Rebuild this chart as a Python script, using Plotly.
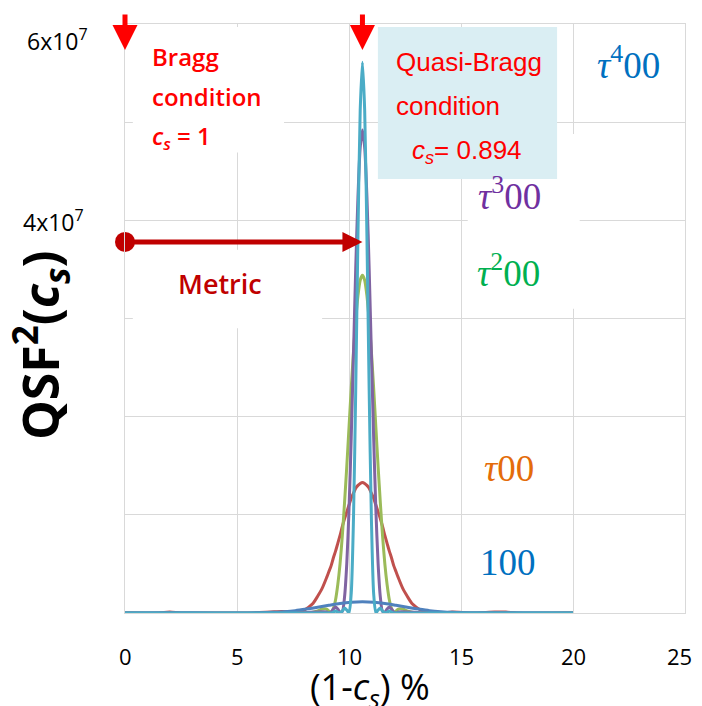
import plotly.graph_objects as go

# ---------------- data (values in units of 1e7) ----------------
x_fine = [9.0, 9.1, 9.2, 9.3, 9.4, 9.5, 9.6, 9.7, 9.8, 9.9, 10.0, 10.1, 10.2, 10.3, 10.4, 10.5,
          10.6, 10.7, 10.8, 10.9, 11.0, 11.1, 11.2, 11.3, 11.4, 11.5, 11.6, 11.7, 11.8, 11.9, 12.0,
          12.1, 12.2]

t4_x = [0.0, 8.0] + x_fine + [13.2, 20.0]
t4_y = [0, 0,
        0, 0, 0, 0.01, 0.02, 0.01, 0, 0.02, 0.05, 0.03, 0, 0.20, 0.96, 2.27, 3.84, 5.12,
        5.61,
        5.12, 3.84, 2.27, 0.96, 0.20, 0, 0.03, 0.05, 0.02, 0, 0.01, 0.02, 0.01, 0, 0, 0,
        0, 0]

t3_x = [0.0, 7.5, 8.5] + x_fine + [12.7, 13.7, 20.0]
t3_y = [0, 0, 0.01,
        0.01, 0, 0.01, 0.04, 0.06, 0.04, 0.01, 0.015, 0.16, 0.50, 1.05, 1.79, 2.64, 3.51, 4.24, 4.74,
        4.92,
        4.74, 4.24, 3.51, 2.64, 1.79, 1.05, 0.50, 0.16, 0.015, 0.01, 0.04, 0.06, 0.04, 0.01, 0, 0.01,
        0.01, 0, 0]

t2_x = [0.0, 8.2, 8.6, 8.8] + x_fine + [12.4, 12.6, 13.0, 20.0]
t2_y = [0, 0, 0.02, 0.04,
        0.04, 0.02, 0.005, 0.045, 0.135, 0.29, 0.50, 0.78, 1.12, 1.49, 1.89, 2.29, 2.66, 2.98, 3.23, 3.39,
        3.44,
        3.39, 3.23, 2.98, 2.66, 2.29, 1.89, 1.49, 1.12, 0.78, 0.50, 0.29, 0.135, 0.045, 0.005, 0.02, 0.04,
        0.04, 0.02, 0, 0]

t1_x = [0.0, 1.5, 2.0, 2.5, 3.5, 5.5, 6.5, 7.0, 7.6, 8.0, 8.2, 8.4, 8.6, 8.8] + x_fine + \
       [12.4, 12.6, 12.8, 13.0, 13.2, 13.6, 14.2, 14.6, 15.5, 16.5, 17.0, 17.5, 20.0]
t1_y = [0, 0, 0.01, 0, 0, 0, 0.01, 0.015, 0.01, 0.03, 0.06, 0.10, 0.17, 0.25,
        0.36, 0.42, 0.48, 0.56, 0.63, 0.71, 0.79, 0.88, 0.96, 1.03, 1.10, 1.17, 1.22, 1.27, 1.30, 1.32,
        1.33,
        1.32, 1.30, 1.27, 1.22, 1.17, 1.10, 1.03, 0.96, 0.88, 0.79, 0.71, 0.63, 0.56, 0.48, 0.42, 0.36,
        0.25, 0.17, 0.10, 0.06, 0.03, 0.01, 0, 0.01, 0, 0.01, 0.01, 0, 0]

b100_x = [0.0, 2.0, 4.0, 5.0, 6.0, 6.6, 7.1, 7.6, 8.1, 8.6, 9.1, 9.6, 10.1, 10.6, 11.1, 11.6, 12.1,
          12.6, 13.1, 13.6, 14.1, 14.6, 15.6, 17.0, 20.0]
b100_y = [0, 0.003, 0, 0, 0.003, 0.007, 0.014, 0.024, 0.040, 0.058, 0.078, 0.097, 0.110, 0.115, 0.110,
          0.097, 0.078, 0.058, 0.040, 0.024, 0.014, 0.007, 0.002, 0.003, 0]

series_names = ["τ00", "τ²00", "τ³00", "100", "τ⁴00"]
series_colors = ["#C0504D", "#9BBB59", "#8064A2", "#4F81BD", "#4BACC6"]

x_ticks = [0, 5, 10, 15, 20, 25]
x_tick_labels = ["0", "5", "10", "15", "20", "25"]
y_tick_vals = [6, 4]
y_tick_labels = ["6x10<sup>7</sup>", "4x10<sup>7</sup>"]

bragg_x = 0.0           # (1 - cs) % for cs = 1
quasi_x = 10.6          # (1 - cs) % for cs = 0.894
metric_y = 3.78

# ---------------- figure ----------------
# page body has an 8px default margin; keep the page no wider than the window.
# Target plot area in window pixels: x 125..685, y 24..613
BODY = 8
PL, PR, PT, PB = 125, 685, 24, 613
W, H = 702 - 2 * BODY, 706 - BODY
L, T = PL - BODY, PT - BODY
R = W - (PR - BODY)
B = H - (PB - BODY)
PW, PH = PR - PL, PB - PT


def px(xp):
    return (xp - PL) / PW


def py(yp):
    return (PB - yp) / PH


fig = go.Figure()
xs = [t1_x, t2_x, t3_x, b100_x, t4_x]
ys = [t1_y, t2_y, t3_y, b100_y, t4_y]
for xv, yv, nm, col in zip(xs, ys, series_names, series_colors):
    fig.add_trace(go.Scatter(x=xv, y=yv, mode="lines", name=nm,
                             line=dict(color=col, width=3, shape="spline", smoothing=0.7),
                             hoverinfo="skip"))

# metric start dot
fig.add_trace(go.Scatter(x=[bragg_x], y=[metric_y], mode="markers", cliponaxis=False,
                         marker=dict(color="#C00000", size=20, line_width=0), hoverinfo="skip"))

grid = "#D9D9D9"
fig.update_layout(
    width=W, height=H, margin=dict(l=L, r=R, t=T, b=B),
    paper_bgcolor="white", plot_bgcolor="white", showlegend=False,
    xaxis=dict(range=[0, 25], tickvals=x_ticks, showgrid=True, showticklabels=False,
               gridcolor=grid, gridwidth=1, zeroline=False, showline=True, mirror=True,
               linecolor=grid, ticks=""),
    yaxis=dict(range=[0, 6], dtick=1, showgrid=True, gridcolor=grid, gridwidth=1, zeroline=False,
               showline=True, mirror=True, linecolor=grid, showticklabels=False, ticks=""),
)

# white text-box backgrounds and light-blue box
fig.add_shape(type="rect", xref="x", yref="y", x0=0.35, x1=7.1, y0=4.69, y1=5.97,
              fillcolor="white", line_width=0, layer="between")
fig.add_shape(type="rect", xref="x", yref="y", x0=0.35, x1=8.8, y0=2.9, y1=3.7,
              fillcolor="white", line_width=0, layer="between")
fig.add_shape(type="rect", xref="x", yref="y", x0=15.3, x1=20.3, y0=3.1, y1=4.88,
              fillcolor="white", line_width=0, layer="between")
fig.add_shape(type="rect", xref="x", yref="y", x0=11.29, x1=19.29, y0=4.42, y1=5.97,
              fillcolor="#DAEEF3", line_width=0, layer="between")

ann = []
# x tick labels (last one kept inside the page edge)
for v, t in zip(x_ticks, x_tick_labels):
    last = v == x_ticks[-1]
    ann.append(dict(x=v, y=py(656), xref="x", yref="paper", text=t, showarrow=False,
                    xanchor="right" if last else "center", xshift=9 if last else 0,
                    yanchor="middle", font=dict(family="Open Sans", size=22, color="black")))
# y tick labels
for v, t, xr in zip(y_tick_vals, y_tick_labels, [90, 86]):
    shift = -16 if v == 6 else -1
    ann.append(dict(x=px(xr), y=v, xref="paper", yref="y", text=t, showarrow=False,
                    xanchor="right", yanchor="middle", yshift=shift,
                    font=dict(family="Open Sans", size=23, color="black")))
# axis titles
ann.append(dict(x=px(370), y=py(688), xref="paper", yref="paper",
                text="(1-<i>c<sub>s</sub></i>) %", showarrow=False, xanchor="center", yanchor="middle",
                font=dict(family="Open Sans", size=36, color="black")))
ann.append(dict(x=px(40), y=py(346), xref="paper", yref="paper", textangle=-90,
                text="<b>QSF<sup>2</sup>(<i>c<sub>s</sub></i>)</b>", showarrow=False,
                xanchor="center", yanchor="middle",
                font=dict(family="Open Sans", size=50, color="black")))

# red down arrows
for xa in [bragg_x, quasi_x]:
    ann.append(dict(x=xa, y=py(50), xref="x", yref="paper", ax=0, ay=-37, text="",
                    showarrow=True, arrowhead=2, arrowsize=1.0, arrowwidth=5, arrowcolor="#FF0000"))
# metric arrow
ann.append(dict(x=quasi_x, y=metric_y, xref="x", yref="y", axref="x", ayref="y", ax=bragg_x,
                ay=metric_y, text="", showarrow=True, arrowhead=2, arrowsize=0.8, arrowwidth=5,
                arrowcolor="#C00000"))

red = "#FF0000"
# Bragg condition text
for txt, yp in [("Bragg", 57), ("condition", 97), ("<i>c<sub>s</sub></i> = 1", 137)]:
    ann.append(dict(x=px(150), y=py(yp), xref="paper", yref="paper", text=txt, showarrow=False,
                    xanchor="left", yanchor="middle",
                    font=dict(family="Open Sans", size=24, color=red, weight=600)))
# Quasi-Bragg text
for txt, xp, yp in [("Quasi-Bragg", 394, 62), ("condition", 394, 106),
                    ("<i>c<sub>s</sub></i>= 0.894", 410, 151)]:
    ann.append(dict(x=px(xp), y=py(yp), xref="paper", yref="paper", text=txt, showarrow=False,
                    xanchor="left", yanchor="middle",
                    font=dict(family="Liberation Sans", size=26, color=red)))
# Metric
ann.append(dict(x=px(220), y=py(283), xref="paper", yref="paper", text="Metric", showarrow=False,
                xanchor="center", yanchor="middle",
                font=dict(family="Open Sans", size=27, color="#C00000", weight=600)))

# series labels
labels = [("<i>τ</i><sup>4</sup>00", "#0070C0", 628, 62),
          ("<i>τ</i><sup>3</sup>00", "#7030A0", 509, 193),
          ("<i>τ</i><sup>2</sup>00", "#00B050", 508, 270),
          ("<i>τ</i>00", "#E46C0A", 509, 468),
          ("100", "#0070C0", 508, 562)]
for txt, col, xp, yp in labels:
    ann.append(dict(x=px(xp), y=py(yp), xref="paper", yref="paper", text=txt, showarrow=False,
                    xanchor="center", yanchor="middle",
                    font=dict(family="Liberation Serif", size=37, color=col)))

fig.update_layout(annotations=ann)
fig.write_html("out.html")
